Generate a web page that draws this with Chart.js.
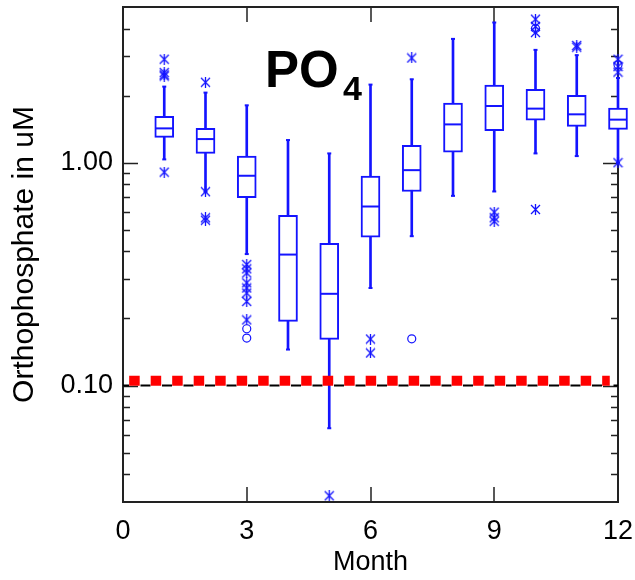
<!DOCTYPE html>
<html>
<head>
<meta charset="utf-8">
<script src="https://cdn.jsdelivr.net/npm/chart.js@4"></script>
<style>
  body { margin: 0; background: #fff; }
  #wrap { width: 635px; height: 580px; position: relative; }
</style>
</head>
<body>
<div id="wrap"><canvas id="chart"></canvas></div>
<script>
// Monthly orthophosphate box plots (uM)
const months      = [1, 2, 3, 4, 5, 6, 7, 8, 9, 10, 11, 12];
const whiskerLow  = [1.035, 0.741, 0.389, 0.145, 0.0643, 0.274, 0.468, 0.710, 0.743, 1.101, 1.071, 1.00];
const quart1      = [1.299, 1.101, 0.696, 0.194, 0.161, 0.463, 0.743, 1.116, 1.393, 1.554, 1.456, 1.411];
const medians     = [1.426, 1.277, 0.874, 0.387, 0.258, 0.636, 0.926, 1.486, 1.797, 1.749, 1.649, 1.561];
const quart3      = [1.615, 1.426, 1.071, 0.580, 0.435, 0.870, 1.196, 1.854, 2.233, 2.136, 2.007, 1.760];
const whiskerHigh = [2.196, 2.064, 1.810, 1.264, 1.101, 2.242, 2.369, 3.596, 4.26, 3.21, 3.04, 2.40];

// outliers drawn as asterisks
const starMonth = [1, 1, 1, 1, 1, 2, 2, 2, 2, 3, 3, 3, 3, 3, 3, 3, 3, 5, 6, 6, 7, 9, 9, 9, 10, 10, 10, 10, 11, 11, 12, 12, 12, 12];
const starValue = [2.914, 2.539, 2.48, 2.45, 0.907, 2.297, 0.741, 0.566, 0.552,
                   0.349, 0.334, 0.320, 0.289, 0.274, 0.260, 0.2385, 0.197,
                   0.032, 0.1617, 0.140, 2.953, 0.600, 0.566, 0.546,
                   4.41, 4.09, 3.84, 0.617, 3.36, 3.30, 2.914, 2.70, 2.55, 1.00];
// outliers drawn as circles
const ringMonth = [3, 3, 7, 10, 12];
const ringValue = [0.1798, 0.1633, 0.162, 4.0, 2.75];

// reference lines
const refLineX   = [0, 12];
const refLineY   = [0.10, 0.10];
const limitLineX = [0.15, 11.8];
const limitLineY = [0.105, 0.105];

// axes
const xTicks      = [0, 3, 6, 9, 12];
const yMajorTicks = [0.1, 1];
const yMinorTicks = [0.04, 0.05, 0.06, 0.07, 0.08, 0.09, 0.2, 0.3, 0.4, 0.5, 0.6, 0.7, 0.8, 0.9, 2, 3, 4];

const BLUE = '#1414ff';
const FONT = "'Liberation Sans', Arial, sans-serif";

function makeStar(size, color) {
    const c = document.createElement('canvas');
    c.width = size; c.height = size;
    const g = c.getContext('2d');
    g.strokeStyle = color;
    g.lineWidth = 1.3;
    g.beginPath();
    g.moveTo(1, 1); g.lineTo(size - 1, size - 1);
    g.moveTo(size - 1, 1); g.lineTo(1, size - 1);
    g.moveTo(size / 2, 0); g.lineTo(size / 2, size);
    g.stroke();
    return c;
}

const zip = (xs, ys) => xs.map((x, i) => ({ x: x, y: ys[i] }));

// no extra label padding around the plot box
const noPad = s => { s.paddingTop = 0; s.paddingBottom = 0; s.paddingLeft = 0; s.paddingRight = 0; };

// frame with inward ticks + title
const framePlugin = {
    id: 'frame',
    beforeDatasetsDraw(chart) {
        const { ctx, chartArea: a, scales } = chart;
        const xs = scales.x, ys = scales.y;
        ctx.save();
        ctx.strokeStyle = '#222';
        ctx.lineWidth = 2;
        ctx.strokeRect(a.left, a.top, a.right - a.left, a.bottom - a.top);
        ctx.beginPath();
        const yTick = (v, len) => {
            const p = Math.round(ys.getPixelForValue(v)) + 0.5;
            ctx.moveTo(a.left, p); ctx.lineTo(a.left + len, p);
            ctx.moveTo(a.right, p); ctx.lineTo(a.right - len, p);
        };
        yMajorTicks.forEach(v => yTick(v, 15));
        yMinorTicks.forEach(v => yTick(v, 7));
        xTicks.slice(1, -1).forEach(v => {
            const p = Math.round(xs.getPixelForValue(v));
            ctx.moveTo(p, a.bottom); ctx.lineTo(p, a.bottom - 15);
            ctx.moveTo(p, a.top); ctx.lineTo(p, a.top + 15);
        });
        ctx.lineWidth = 1.5;
        ctx.stroke();
        ctx.restore();
    },
    afterDraw(chart) {
        const ctx = chart.ctx;
        ctx.save();
        ctx.fillStyle = '#000';
        ctx.textBaseline = 'alphabetic';
        ctx.font = 'bold 51px ' + FONT;
        ctx.fillText('PO', 265, 87);
        ctx.font = 'bold 34px ' + FONT;
        ctx.fillText('4', 343, 100);
        ctx.restore();
    }
};

const star = makeStar(11, BLUE);

new Chart(document.getElementById('chart'), {
    type: 'bar',
    data: {
        datasets: [
            {
                type: 'line', order: 6, clip: false,
                data: zip(refLineX, refLineY),
                borderColor: '#000', borderWidth: 2,
                borderDash: [10, 11.5], borderDashOffset: 4,
                pointRadius: 0
            },
            {
                order: 5, grouped: false, clip: false,
                data: months.map((m, i) => ({ x: m, y: [whiskerLow[i], whiskerHigh[i]] })),
                backgroundColor: BLUE, borderWidth: 0, barThickness: 2
            },
            {
                order: 4, grouped: false, clip: false,
                data: months.map((m, i) => ({ x: m, y: [quart1[i], quart3[i]] })),
                backgroundColor: '#fff', borderColor: BLUE, borderWidth: 2,
                borderSkipped: false, barThickness: 19
            },
            {
                type: 'line', order: 3,
                data: zip(limitLineX, limitLineY),
                borderColor: '#ff0000', borderWidth: 10,
                borderDash: [10.5, 11], borderCapStyle: 'butt',
                pointRadius: 0
            },
            {
                type: 'scatter', order: 2, clip: false,
                data: zip(months, whiskerLow).concat(zip(months, whiskerHigh)),
                pointStyle: 'line', pointRadius: 2, borderColor: BLUE, borderWidth: 2
            },
            {
                type: 'scatter', order: 1, clip: false,
                data: zip(months, medians),
                pointStyle: 'line', pointRadius: 9, borderColor: BLUE, borderWidth: 2
            },
            {
                type: 'scatter', order: 0, clip: false,
                data: zip(starMonth, starValue),
                pointStyle: star, pointRadius: 5
            },
            {
                type: 'scatter', order: 0, clip: false,
                data: zip(ringMonth, ringValue),
                pointStyle: 'circle', pointRadius: 4,
                borderColor: BLUE, borderWidth: 1.2, backgroundColor: 'rgba(0,0,0,0)'
            }
        ]
    },
    options: {
        responsive: true,
        maintainAspectRatio: false,
        animation: false,
        layout: { autoPadding: false, padding: { left: 0, right: 17, top: 7, bottom: 0 } },
        plugins: { legend: { display: false }, tooltip: { enabled: false } },
        scales: {
            x: {
                type: 'linear', min: 0, max: 12, offset: false,
                grid: { display: false, drawTicks: false },
                border: { display: false },
                afterBuildTicks: s => { s.ticks = xTicks.map(v => ({ value: v })); },
                afterFit: s => { s.height = 78; noPad(s); },
                ticks: { color: '#000', padding: 13, maxRotation: 0, font: { family: FONT, size: 27 } },
                title: { display: true, text: 'Month', color: '#000', padding: { top: 0, bottom: 1 },
                         font: { family: FONT, size: 27 } }
            },
            y: {
                type: 'logarithmic', min: 0.03, max: 5,
                grid: { display: false, drawTicks: false },
                border: { display: false },
                afterBuildTicks: s => { s.ticks = yMajorTicks.map(v => ({ value: v })); },
                afterFit: s => { s.width = 123; noPad(s); },
                ticks: { color: '#000', padding: 10, font: { family: FONT, size: 27 },
                         callback: v => Number(v).toFixed(2) },
                title: { display: true, text: 'Orthophosphate in uM', color: '#000',
                         padding: { top: 7, bottom: 0 }, font: { family: FONT, size: 30 } }
            }
        }
    },
    plugins: [framePlugin]
});
</script>
</body>
</html>
